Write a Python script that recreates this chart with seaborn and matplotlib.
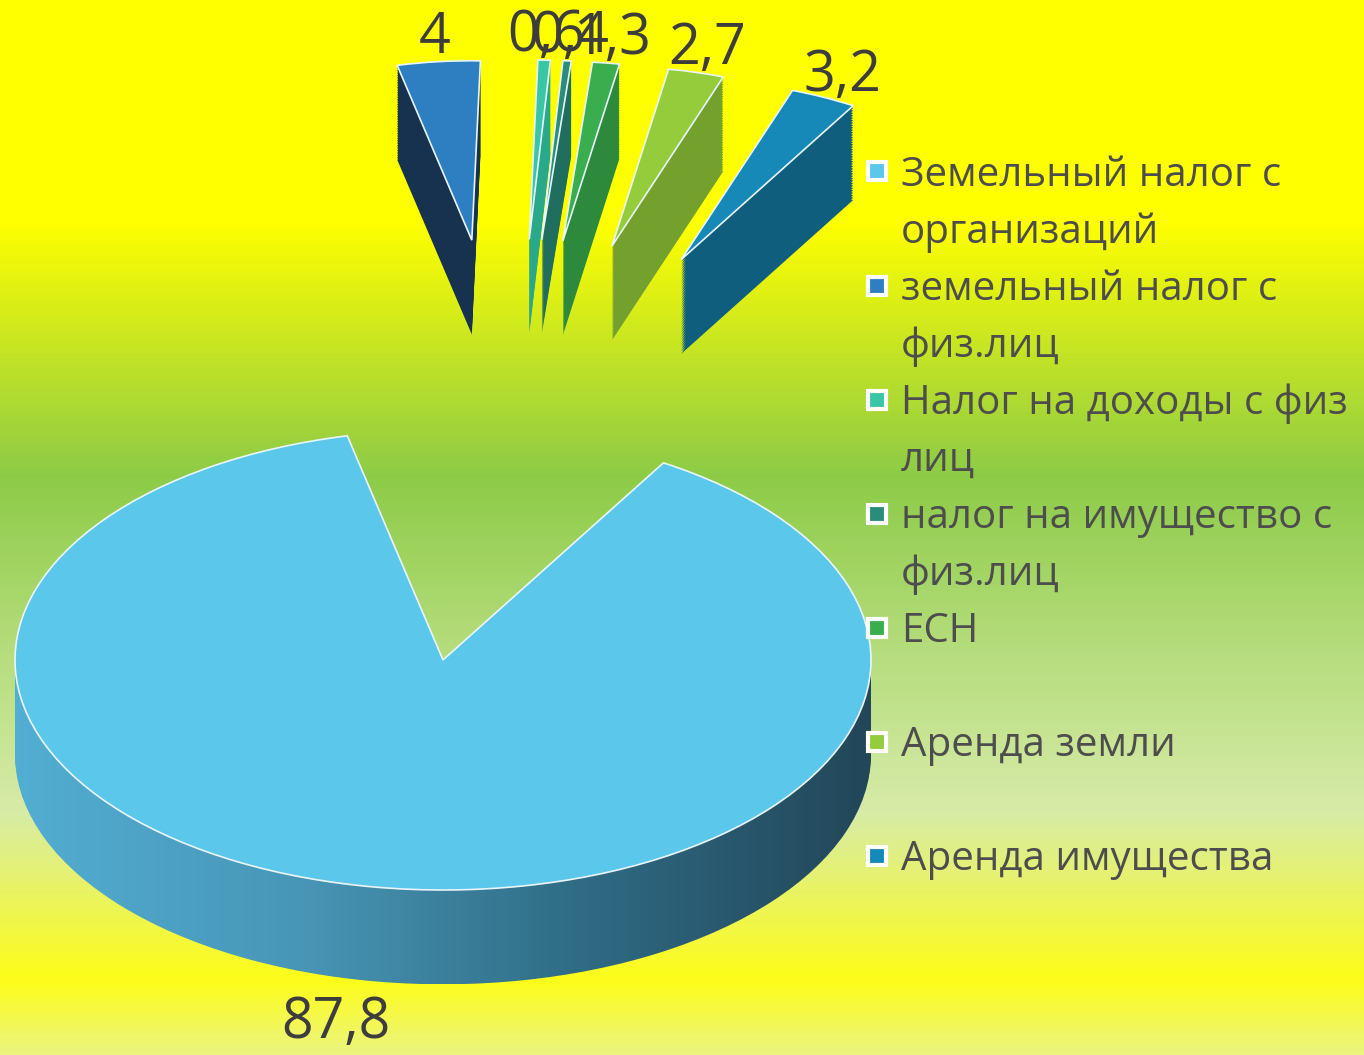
import numpy as np
import matplotlib
matplotlib.use('Agg')
import matplotlib.pyplot as plt
from matplotlib.colors import LinearSegmentedColormap
from matplotlib.lines import Line2D
import seaborn as sns

# Data
categories = ['Земельный налог с\nорганизаций', 'земельный налог с\nфиз.лиц',
              'Налог на доходы с физ\nлиц', 'налог на имущество с\nфиз.лиц',
              'ЕСН', 'Аренда земли', 'Аренда имущества']
values = [87.8, 4, 0.6, 0.4, 1.3, 2.7, 3.2]
face_colors = ['#5bc7ea', '#2e7ec2', '#38c6a5', '#2a8c7a', '#3aae4e', '#94cc3c', '#1689b8']
side_colors = ['#3f86a8', '#16324f', '#2aa88a', '#1f6e5e', '#2d8a3c', '#74a02e', '#0f5e7e']

sns.set_theme(style='white')
plt.rcParams['font.family'] = ['Open Sans', 'DejaVu Sans']

TEXT_COLOR = '#3d3d3d'
START = 59          # degrees, gap faces upward
DEPTH = 0.41        # thickness of the "3d" pie in data units
N_LAYERS = 40
SMALL_CENTER = (0.16, 0.90)
SMALL_RADIUS = 0.78
SMALL_EXPLODE = 0.93

fig = plt.figure(figsize=(13.64, 10.55), dpi=100)

# Background gradient
bg = fig.add_axes([0, 0, 1, 1], zorder=0)
bg_cmap = LinearSegmentedColormap.from_list('bg', [
    (0.0, '#ffff00'), (0.21, '#ffff00'), (0.45, '#8dcb47'), (0.62, '#b6dd7e'),
    (0.77, '#d7eba8'), (0.93, '#fdfd18'), (1.0, '#ecf47e')])
bg.imshow(np.linspace(0, 1, 256).reshape(-1, 1), aspect='auto', cmap=bg_cmap, extent=(0, 1, 0, 1))
bg.axis('off')

ax = fig.add_axes([0, 0, 1, 1], zorder=1)
ax.set_facecolor('none')

side_cmap = LinearSegmentedColormap.from_list('side', ['#52aed3', '#4896b6', '#2f6b83', '#234659'])
side_grad = np.linspace(0, 1, 256).reshape(1, -1)
small_explode = [0] + [SMALL_EXPLODE] * (len(values) - 1)

# Side layers (bottom to top)
offsets = np.linspace(-DEPTH, 0, N_LAYERS)
for k, dy in enumerate(offsets[:-1]):
    # main slice side with horizontal gradient
    wedges, _ = ax.pie(values, colors=side_colors, startangle=START, counterclock=False,
                       center=(0, dy), radius=1, wedgeprops=dict(linewidth=0))
    for w in wedges:
        w.set_visible(False)
    img = ax.imshow(side_grad, cmap=side_cmap, aspect='auto',
                    extent=(-1, 1, dy - 1, dy + 1), zorder=1 + k)
    img.set_clip_path(wedges[0])

    # exploded small slices side
    wedges, _ = ax.pie(values, colors=side_colors, startangle=START, counterclock=False,
                       center=(SMALL_CENTER[0], SMALL_CENTER[1] + dy), radius=SMALL_RADIUS,
                       explode=small_explode, wedgeprops=dict(linewidth=0))
    wedges[0].set_visible(False)
    for w in wedges:
        w.set_zorder(1 + k)

# Top faces
labels = [f'{v:g}'.replace('.', ',') for v in values]
top_z = N_LAYERS + 5
wedges, texts = ax.pie(values, colors=face_colors, startangle=START, counterclock=False,
                       labels=[labels[0]] + [''] * (len(values) - 1), labeldistance=1.6,
                       wedgeprops=dict(linewidth=1.2, edgecolor='#e8f6fb'),
                       textprops=dict(fontsize=40, color=TEXT_COLOR))
for w in wedges[1:]:
    w.set_visible(False)
wedges[0].set_zorder(top_z)

wedges, texts2 = ax.pie(values, colors=face_colors, startangle=START, counterclock=False,
                        center=SMALL_CENTER, radius=SMALL_RADIUS, explode=small_explode,
                        labels=[''] + labels[1:], labeldistance=1.13,
                        wedgeprops=dict(linewidth=1.2, edgecolor='#e8f6fb'),
                        textprops=dict(fontsize=40, color=TEXT_COLOR))
wedges[0].set_visible(False)
for w in wedges:
    w.set_zorder(top_z)

for t in texts + texts2:
    t.set_ha('center')
    t.set_va('center')
    t.set_zorder(top_z + 1)

# 1 unit = 428 px across, 230 px down; pie centre at (443, 660) px
ax.set_aspect('auto')
ax.set_xlim(-443 / 428, 921 / 428)
ax.set_ylim(-395 / 230, 660 / 230)
ax.axis('off')

# Legend: first line carries the marker, second line is a blank row
handles, leg_labels = [], []
for name, color in zip(categories, face_colors):
    first, _, second = name.partition('\n')
    handles.append(Line2D([], [], marker='s', markersize=13, markerfacecolor=color,
                          markeredgecolor='white', markeredgewidth=3, linestyle='none'))
    leg_labels.append(first)
    handles.append(Line2D([], [], linestyle='none'))
    leg_labels.append(second)

fig.legend(handles, leg_labels, loc='upper left', bbox_to_anchor=(0.634, 0.853),
           frameon=False, fontsize=29, labelcolor='#4d4d4d', handlelength=0.6,
           handletextpad=0.3, labelspacing=0.41, borderpad=0, borderaxespad=0)

fig.savefig('out.png', dpi=100)
